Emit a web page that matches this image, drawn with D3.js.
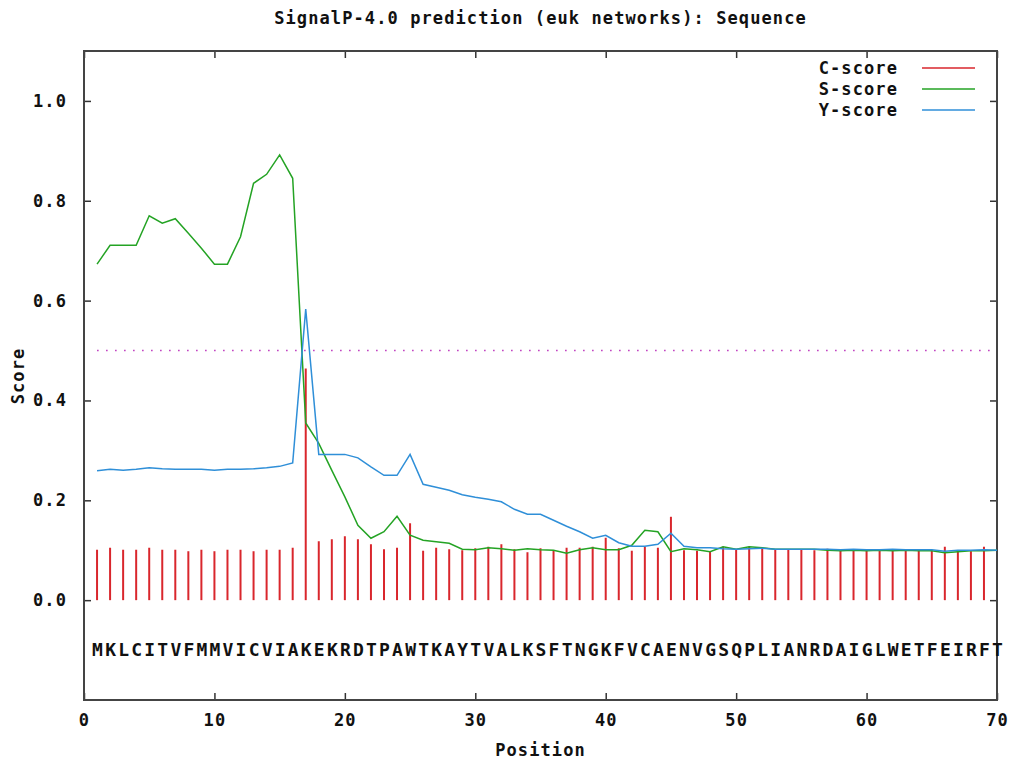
<!DOCTYPE html>
<html lang="en">
<head>
<meta charset="UTF-8">
<title>SignalP-4.0 prediction</title>
<script src="https://d3js.org/d3.v7.min.js"></script>
<style>
  body { margin: 0; background: #fff; }
  text { font-family: "DejaVu Sans Mono", "Liberation Mono", monospace; font-weight: bold; font-size: 17px; letter-spacing: 1.1px; fill: #111; }
</style>
</head>
<body>
<div id="chart"></div>
<script>
// sequence, one residue per position 1..70
const sequence = "MKLCITVFMMVICVIAKEKRDTPAWTKAYTVALKSFTNGKFVCAENVGSQPLIANRDAIGLWETFEIRFT".split("");

// C-score, positions 1..69
const cScore = [
  0.101, 0.105, 0.101, 0.101, 0.105, 0.101, 0.101, 0.098, 0.101, 0.098,
  0.101, 0.101, 0.098, 0.101, 0.101, 0.105, 0.464, 0.118, 0.122, 0.128,
  0.122, 0.112, 0.102, 0.105, 0.154, 0.099, 0.105, 0.102, 0.100, 0.104,
  0.107, 0.112, 0.102, 0.096, 0.104, 0.100, 0.105, 0.105, 0.107, 0.125,
  0.104, 0.099, 0.107, 0.105, 0.167, 0.100, 0.099, 0.097, 0.107, 0.101,
  0.107, 0.105, 0.101, 0.101, 0.101, 0.100, 0.103, 0.100, 0.100, 0.100,
  0.099, 0.100, 0.100, 0.099, 0.100, 0.107, 0.099, 0.098, 0.107
];

// S-score, positions 1..70
const sScore = [
  0.673, 0.711, 0.711, 0.711, 0.770, 0.755, 0.764, 0.735, 0.705, 0.673,
  0.673, 0.728, 0.835, 0.853, 0.892, 0.845, 0.355, 0.314, 0.260, 0.207,
  0.150, 0.124, 0.137, 0.168, 0.130, 0.120, 0.117, 0.114, 0.102, 0.101,
  0.105, 0.103, 0.100, 0.103, 0.101, 0.100, 0.094, 0.101, 0.105, 0.101,
  0.101, 0.110, 0.140, 0.137, 0.097, 0.103, 0.101, 0.097, 0.107, 0.102,
  0.107, 0.105, 0.102, 0.102, 0.102, 0.102, 0.100, 0.099, 0.100, 0.099,
  0.100, 0.099, 0.100, 0.099, 0.099, 0.095, 0.097, 0.099, 0.099, 0.100
];

// Y-score, positions 1..70
const yScore = [
  0.259, 0.262, 0.260, 0.262, 0.265, 0.263, 0.262, 0.262, 0.262, 0.260,
  0.262, 0.262, 0.263, 0.265, 0.268, 0.275, 0.583, 0.292, 0.292, 0.292,
  0.285, 0.267, 0.250, 0.250, 0.292, 0.232, 0.226, 0.220, 0.211, 0.206,
  0.202, 0.197, 0.182, 0.172, 0.172, 0.160, 0.148, 0.137, 0.124, 0.130,
  0.115, 0.108, 0.108, 0.112, 0.134, 0.108, 0.105, 0.105, 0.103, 0.102,
  0.103, 0.104, 0.102, 0.102, 0.102, 0.102, 0.102, 0.101, 0.102, 0.101,
  0.101, 0.102, 0.101, 0.101, 0.101, 0.098, 0.100, 0.100, 0.101, 0.100
];

const threshold = 0.5;
const xTicks = [0, 10, 20, 30, 40, 50, 60, 70];
const yTicks = [0, 0.2, 0.4, 0.6, 0.8, 1.0];
const legendNames = ["C-score", "S-score", "Y-score"];
const colors = ["#d9262c", "#24a324", "#2f8fd8"];

const W = 1016, H = 765;
const margin = { top: 51, right: 19, bottom: 65, left: 84 };
const width = W - margin.left - margin.right;
const height = H - margin.top - margin.bottom;

const svg = d3.select("#chart").append("svg")
  .attr("width", W).attr("height", H);

const g = svg.append("g")
  .attr("transform", `translate(${margin.left},${margin.top})`);

const x = d3.scaleLinear().domain([0, 70]).range([0, width]);
const y = d3.scaleLinear().domain([-0.2, 1.1]).range([height, 0]);

// axes, ticks pointing inward on all four sides
const fmt = d3.format(".1f");
const axB = g.append("g").attr("transform", `translate(0,${height})`)
  .call(d3.axisBottom(x).tickValues(xTicks).tickSizeInner(-7).tickSizeOuter(0).tickPadding(14));
const axT = g.append("g")
  .call(d3.axisTop(x).tickValues(xTicks).tickSizeInner(-7).tickSizeOuter(0).tickFormat(""));
const axL = g.append("g")
  .call(d3.axisLeft(y).tickValues(yTicks).tickSizeInner(-7).tickSizeOuter(0).tickPadding(17).tickFormat(fmt));
const axR = g.append("g").attr("transform", `translate(${width},0)`)
  .call(d3.axisRight(y).tickValues(yTicks).tickSizeInner(-7).tickSizeOuter(0).tickFormat(""));

[axB, axT, axL, axR].forEach(a => {
  a.select(".domain").remove();
  a.selectAll(".tick line").attr("stroke", "#333").attr("stroke-width", 1.5);
  a.selectAll("text").attr("font-size", null).attr("font-family", null).attr("fill", "#111");
});

g.append("rect")
  .attr("width", width).attr("height", height)
  .attr("fill", "none").attr("stroke", "#444").attr("stroke-width", 2);

// threshold
g.append("line")
  .attr("x1", x(1)).attr("x2", x(70))
  .attr("y1", y(threshold)).attr("y2", y(threshold))
  .attr("stroke", "#c040c0").attr("stroke-width", 1.6)
  .attr("stroke-dasharray", "1.6,7.4");

// C-score impulses
g.selectAll(".cbar").data(cScore).enter().append("line")
  .attr("class", "cbar")
  .attr("x1", (d, i) => x(i + 1)).attr("x2", (d, i) => x(i + 1))
  .attr("y1", y(0)).attr("y2", d => y(d))
  .attr("stroke", colors[0]).attr("stroke-width", 2);

const line = d3.line().x((d, i) => x(i + 1)).y(d => y(d));

g.append("path").datum(sScore)
  .attr("d", line).attr("fill", "none")
  .attr("stroke", colors[1]).attr("stroke-width", 1.5);

g.append("path").datum(yScore)
  .attr("d", line).attr("fill", "none")
  .attr("stroke", colors[2]).attr("stroke-width", 1.5);

// sequence letters
g.selectAll(".aa").data(sequence).enter().append("text")
  .attr("class", "aa")
  .attr("x", (d, i) => x(i + 1) + 0.5)
  .attr("y", y(-0.1))
  .attr("dy", "0.35em")
  .attr("text-anchor", "middle")
  .style("font-size", "18px")
  .style("letter-spacing", "0px")
  .text(d => d);

// legend
const leg = g.selectAll(".leg").data(legendNames).enter().append("g")
  .attr("class", "leg")
  .attr("transform", (d, i) => `translate(0,${17 + i * 21})`);
leg.append("text")
  .attr("x", 814).attr("dy", "0.35em")
  .attr("text-anchor", "end")
  .text(d => d);
leg.append("line")
  .attr("x1", 838).attr("x2", 891)
  .attr("stroke", (d, i) => colors[i]).attr("stroke-width", 1.5);

// titles
svg.append("text")
  .attr("x", margin.left + width / 2).attr("y", 18)
  .attr("dy", "0.35em").attr("text-anchor", "middle")
  .text("SignalP-4.0 prediction (euk networks): Sequence");

svg.append("text")
  .attr("x", margin.left + width / 2).attr("y", 750)
  .attr("dy", "0.35em").attr("text-anchor", "middle")
  .text("Position");

svg.append("text")
  .attr("transform", "translate(18,376) rotate(-90)")
  .attr("dy", "0.35em").attr("text-anchor", "middle")
  .text("Score");
</script>
</body>
</html>
